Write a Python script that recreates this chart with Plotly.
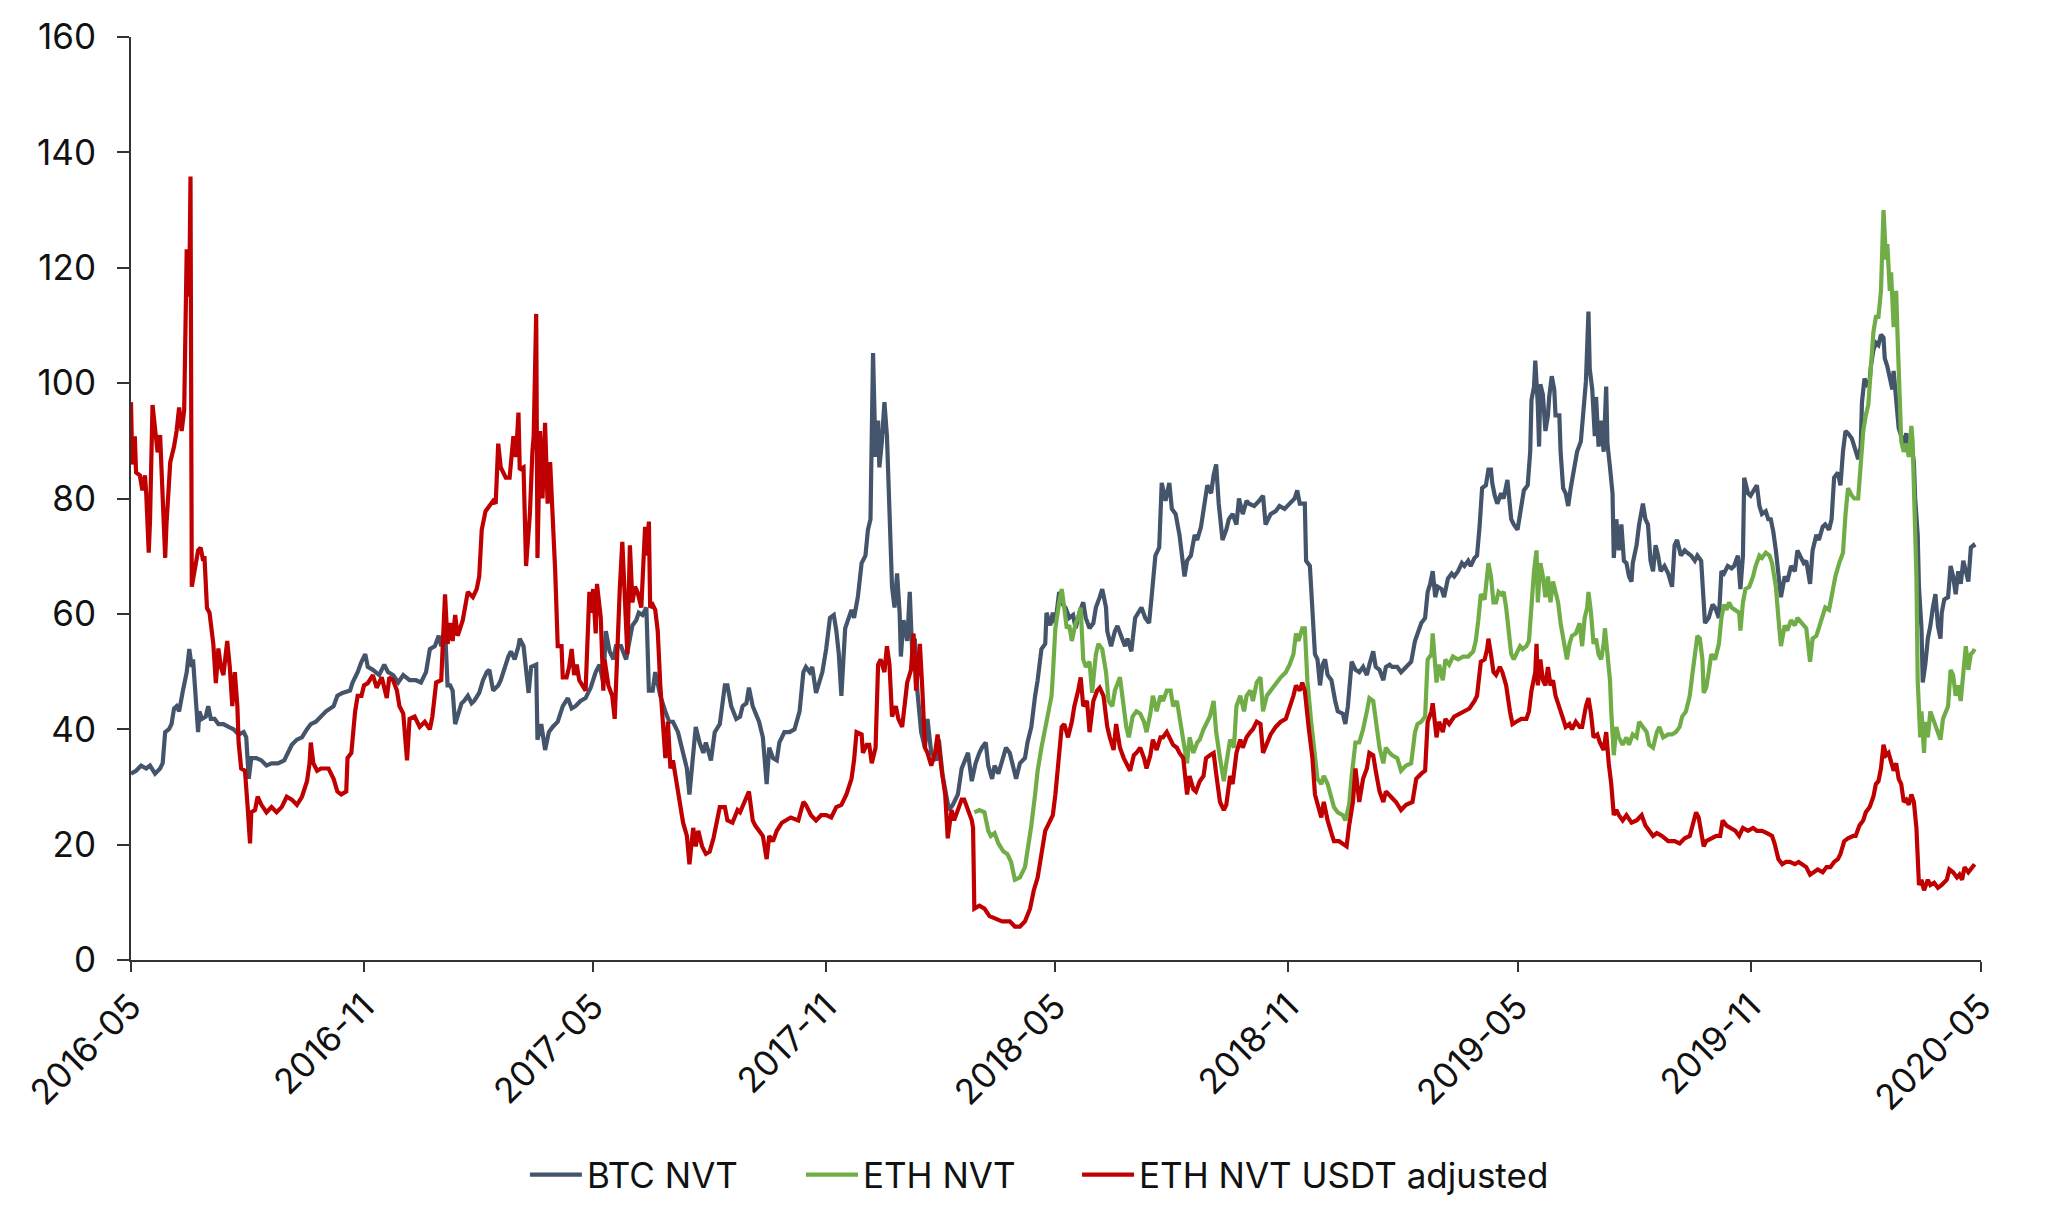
import pandas as pd
import plotly.graph_objects as go

# ---------------- data (day offset from start_date, value) ----------------
start_date = "2016-05-01"
series_names = ["BTC NVT", "ETH NVT", "ETH NVT USDT adjusted"]
series_colors = ["#44546A", "#70AD47", "#C00000"]

btc_nvt = [
    (0, 32.3), (4, 32.8), (8, 33.7), (12, 33.2), (15, 33.7), (19, 32.3), (23, 33.2), (25, 34.1), (27, 39.5),
    (30, 40.0), (32, 40.9), (34, 43.6), (36, 44.0), (38, 43.1), (41, 46.7), (43, 49.4), (44, 49.9), (46, 53.9),
    (48, 50.8), (49, 52.1), (51, 44.9), (53, 39.5), (54, 43.1), (56, 41.8), (59, 42.2), (61, 44.0), (63, 41.8),
    (66, 41.8), (69, 40.9), (73, 40.9), (77, 40.4), (81, 40.0), (85, 39.1), (89, 39.5), (91, 38.6), (93, 31.4),
    (95, 35.0), (99, 35.0), (103, 34.6), (107, 33.7), (111, 34.1), (116, 34.1), (121, 34.6), (124, 35.9),
    (127, 37.3), (131, 38.2), (135, 38.6), (139, 40.0), (142, 40.9), (146, 41.3), (150, 42.2), (154, 43.1),
    (160, 44.0), (163, 45.8), (167, 46.3), (173, 46.7), (175, 48.1), (179, 49.9), (182, 51.7), (185, 53.0),
    (187, 50.8), (191, 50.3), (196, 49.4), (200, 51.2), (203, 49.9), (207, 49.4), (211, 48.1), (215, 49.4),
    (220, 48.5), (225, 48.5), (229, 48.1), (233, 49.9), (236, 53.9), (240, 54.4), (243, 56.2), (245, 54.4),
    (248, 57.5), (250, 47.6), (252, 47.6), (254, 46.7), (256, 40.9), (258, 42.2), (261, 44.5), (263, 44.9),
    (266, 45.8), (269, 44.5), (271, 44.9), (275, 46.3), (278, 48.5), (281, 49.9), (283, 50.3), (286, 46.7),
    (290, 47.6), (292, 48.5), (295, 50.8), (298, 52.6), (300, 53.5), (303, 52.1), (306, 54.4), (307, 55.7),
    (310, 54.4), (312, 49.9), (314, 46.3), (316, 50.8), (320, 51.2), (321, 38.2), (324, 40.9), (327, 36.4),
    (330, 39.5), (333, 40.4), (337, 41.3), (341, 44.0), (345, 45.4), (348, 43.6), (351, 44.0), (355, 44.9),
    (359, 45.4), (363, 47.2), (367, 49.9), (370, 51.2), (373, 48.0), (375, 57.0), (378, 53.5), (381, 52.1),
    (383, 54.4), (387, 54.4), (391, 52.1), (394, 55.7), (396, 58.0), (399, 58.9), (401, 60.2), (404, 59.8),
    (407, 61.1), (409, 46.7), (412, 46.7), (414, 49.9), (418, 45.8), (422, 43.1), (425, 41.3), (428, 41.3),
    (432, 39.5), (436, 35.9), (439, 33.2), (441, 28.7), (444, 35.9), (446, 40.4), (449, 37.7), (452, 35.9),
    (454, 37.7), (458, 34.6), (461, 39.5), (465, 40.9), (469, 47.6), (471, 47.6), (474, 44.0), (478, 41.8),
    (481, 42.2), (483, 44.0), (486, 44.5), (488, 47.2), (491, 44.0), (494, 42.2), (496, 41.3), (499, 38.6),
    (502, 30.5), (504, 36.8), (507, 35.0), (510, 34.6), (512, 37.7), (516, 39.5), (520, 39.5), (524, 40.0),
    (528, 43.1), (531, 49.9), (533, 50.8), (536, 49.9), (538, 50.8), (541, 46.3), (544, 48.5), (546, 49.9),
    (549, 53.9), (552, 59.3), (555, 59.8), (557, 57.1), (559, 53.0), (561, 45.8), (564, 57.5), (567, 59.3),
    (569, 60.7), (571, 59.3), (574, 62.9), (577, 68.8), (580, 70.1), (582, 74.6), (584, 76.4), (586, 105.2),
    (588, 87.2), (590, 93.5), (591, 85.4), (593, 89.9), (595, 96.7), (597, 90.8), (599, 77.3), (601, 64.7),
    (603, 61.1), (605, 67.0), (607, 60.2), (608, 52.6), (610, 58.9), (613, 55.3), (615, 63.8), (617, 53.0),
    (619, 55.7), (621, 46.7), (624, 39.5), (627, 36.8), (629, 41.8), (632, 35.9), (636, 34.6), (638, 38.2),
    (641, 31.9), (644, 27.8), (646, 26.0), (649, 26.9), (653, 28.7), (656, 33.2), (659, 35.0), (661, 35.9),
    (664, 31.0), (667, 34.1), (670, 35.9), (672, 36.8), (675, 37.7), (677, 33.7), (680, 31.4), (682, 33.7),
    (685, 32.3), (689, 35.0), (691, 36.8), (694, 35.9), (696, 34.1), (699, 31.4), (702, 34.1), (706, 35.0),
    (708, 37.7), (711, 40.4), (714, 45.8), (716, 48.5), (719, 53.9), (722, 54.8), (723, 60.2), (726, 58.0),
    (728, 60.2), (730, 58.4), (733, 63.8), (736, 61.6), (738, 61.1), (741, 59.3), (744, 59.8), (746, 57.5),
    (749, 60.2), (752, 62.0), (754, 59.3), (757, 57.5), (760, 58.4), (762, 61.1), (765, 62.9), (767, 64.3),
    (770, 61.1), (771, 57.0), (774, 54.4), (777, 57.0), (779, 57.9), (782, 56.2), (785, 54.4), (787, 55.7),
    (790, 53.5), (793, 59.3), (796, 60.2), (798, 61.1), (801, 59.3), (804, 58.4), (806, 62.9), (809, 70.1),
    (812, 71.5), (814, 82.7), (817, 79.6), (820, 82.7), (822, 78.2), (825, 77.3), (828, 73.7), (830, 70.1),
    (832, 66.5), (834, 69.2), (837, 70.1), (840, 73.7), (842, 72.8), (845, 75.1), (847, 78.2), (850, 82.3),
    (853, 80.9), (855, 84.1), (857, 85.9), (859, 79.1), (862, 72.8), (865, 74.6), (867, 76.4), (870, 77.3),
    (873, 75.5), (875, 80.0), (878, 77.3), (881, 79.6), (883, 79.1), (887, 78.7), (891, 79.6), (894, 80.5),
    (896, 75.5), (900, 77.3), (904, 77.8), (907, 78.7), (911, 78.2), (915, 79.1), (919, 80.0), (921, 81.4),
    (923, 79.1), (927, 79.1), (928, 69.2), (931, 68.3), (933, 60.2), (935, 53.0), (937, 52.1), (939, 47.6),
    (941, 51.2), (943, 52.1), (945, 49.4), (948, 48.5), (951, 44.9), (953, 43.1), (957, 42.7), (959, 40.9),
    (961, 44.0), (964, 51.7), (967, 50.3), (970, 49.9), (973, 50.8), (976, 49.4), (978, 51.2), (981, 53.5),
    (983, 50.8), (986, 50.3), (989, 48.5), (991, 50.8), (994, 51.2), (996, 50.8), (1000, 50.8), (1003, 49.9),
    (1007, 50.8), (1011, 51.7), (1014, 55.3), (1016, 56.6), (1019, 58.4), (1022, 59.3), (1024, 63.8),
    (1026, 65.2), (1028, 67.4), (1030, 62.9), (1032, 64.7), (1035, 64.3), (1037, 62.9), (1040, 66.1),
    (1043, 67.0), (1045, 66.5), (1048, 67.4), (1051, 68.8), (1053, 68.3), (1056, 69.2), (1058, 68.3),
    (1061, 69.7), (1063, 70.1), (1065, 75.1), (1067, 81.8), (1070, 82.3), (1072, 85.0), (1074, 85.0),
    (1075, 82.7), (1077, 80.5), (1079, 79.1), (1082, 80.9), (1084, 80.0), (1087, 83.2), (1090, 76.4),
    (1092, 75.5), (1095, 74.6), (1098, 78.7), (1100, 81.4), (1103, 82.3), (1105, 88.1), (1106, 97.1),
    (1108, 99.4), (1109, 103.9), (1111, 96.2), (1112, 89.0), (1113, 99.8), (1115, 98.0), (1117, 91.7),
    (1119, 94.4), (1120, 97.6), (1122, 101.2), (1124, 98.9), (1125, 94.4), (1128, 94.4), (1129, 88.1),
    (1131, 81.8), (1133, 80.9), (1135, 78.7), (1137, 81.8), (1140, 85.4), (1142, 88.1), (1145, 89.9),
    (1147, 95.3), (1149, 100.3), (1151, 112.4), (1152, 102.5), (1154, 98.9), (1156, 90.8), (1157, 97.6),
    (1159, 89.0), (1161, 93.5), (1163, 88.1), (1165, 99.4), (1166, 89.5), (1168, 85.4), (1170, 80.9),
    (1171, 69.7), (1173, 76.4), (1175, 71.0), (1177, 75.5), (1179, 69.2), (1181, 68.8), (1183, 66.5),
    (1185, 65.6), (1186, 68.8), (1189, 71.9), (1191, 75.5), (1194, 79.1), (1196, 76.4), (1198, 75.5),
    (1200, 69.2), (1202, 67.4), (1204, 71.9), (1206, 70.1), (1208, 67.4), (1211, 68.3), (1214, 67.0),
    (1217, 64.7), (1219, 71.9), (1221, 72.8), (1224, 70.1), (1227, 71.0), (1229, 70.6), (1232, 70.1),
    (1235, 69.2), (1237, 70.1), (1240, 69.2), (1241, 65.6), (1243, 58.4), (1246, 59.3), (1249, 61.6),
    (1251, 61.1), (1254, 59.3), (1256, 67.4), (1258, 67.0), (1261, 68.3), (1264, 67.9), (1266, 68.3),
    (1269, 70.1), (1271, 64.3), (1273, 70.1), (1274, 83.6), (1277, 80.9), (1279, 80.5), (1282, 81.4),
    (1284, 82.3), (1286, 78.7), (1288, 77.3), (1291, 77.8), (1293, 76.4), (1295, 76.4), (1297, 74.2),
    (1299, 71.0), (1301, 66.5), (1303, 62.9), (1306, 66.5), (1308, 65.6), (1311, 68.3), (1314, 67.4),
    (1316, 71.0), (1319, 69.7), (1321, 68.8), (1323, 69.2), (1326, 65.2), (1328, 71.0), (1331, 73.7),
    (1333, 72.8), (1336, 75.1), (1338, 75.5), (1341, 74.6), (1343, 76.4), (1345, 83.6), (1348, 84.5),
    (1350, 82.3), (1352, 88.1), (1354, 91.7), (1356, 91.3), (1359, 90.4), (1361, 89.0), (1364, 86.8),
    (1366, 89.0), (1367, 96.7), (1369, 100.8), (1371, 99.8), (1373, 100.3), (1374, 102.9), (1376, 105.7),
    (1378, 107.0), (1380, 106.6), (1382, 108.4), (1384, 107.9), (1385, 104.3), (1387, 102.9), (1389, 100.8),
    (1391, 98.9), (1392, 102.1), (1394, 97.6), (1396, 92.2), (1398, 90.8), (1400, 89.5), (1402, 91.3),
    (1404, 88.6), (1406, 89.5), (1408, 86.3), (1409, 80.1), (1411, 73.7), (1412, 64.7), (1414, 57.5),
    (1415, 48.1), (1417, 51.2), (1419, 55.7), (1421, 57.9), (1423, 61.1), (1425, 63.4), (1427, 57.9),
    (1429, 55.7), (1430, 60.2), (1432, 62.5), (1435, 62.9), (1437, 68.3), (1439, 66.5), (1441, 63.4),
    (1443, 67.4), (1445, 65.2), (1447, 69.2), (1449, 67.4), (1451, 65.6), (1453, 71.5), (1455, 71.9),
    (1456, 71.5),
]

eth_nvt = [
    (666, 25.6), (670, 26.0), (674, 25.6), (677, 22.4), (679, 21.5), (682, 22.0), (685, 20.2), (689, 18.8),
    (692, 18.4), (695, 17.0), (698, 13.9), (702, 14.3), (706, 16.1), (708, 18.8), (711, 23.3), (714, 28.7),
    (716, 32.8), (719, 36.8), (722, 40.4), (724, 43.1), (727, 45.8), (728, 49.4), (730, 57.5), (733, 62.0),
    (735, 64.3), (737, 61.1), (739, 57.5), (741, 58.0), (743, 55.3), (746, 58.4), (748, 59.3), (750, 61.1),
    (752, 52.1), (754, 50.8), (757, 51.7), (759, 46.3), (762, 53.0), (764, 54.8), (767, 53.9), (770, 49.9),
    (772, 44.9), (775, 44.0), (777, 46.7), (781, 49.0), (783, 44.9), (786, 40.4), (788, 38.6), (791, 42.2),
    (794, 43.1), (797, 42.7), (800, 41.3), (802, 39.5), (805, 42.7), (807, 45.8), (810, 43.1), (813, 45.8),
    (815, 44.9), (818, 46.7), (821, 46.7), (823, 44.0), (826, 44.9), (828, 42.2), (831, 37.7), (834, 34.1),
    (836, 38.6), (839, 35.9), (842, 37.7), (844, 38.2), (847, 40.0), (850, 41.3), (852, 42.2), (855, 44.9),
    (857, 39.5), (860, 35.0), (863, 31.0), (865, 34.1), (868, 38.2), (871, 36.8), (873, 44.0), (876, 45.8),
    (879, 43.1), (881, 45.8), (884, 46.7), (886, 44.9), (889, 48.1), (892, 49.0), (894, 43.1), (897, 45.8),
    (900, 46.7), (904, 48.1), (908, 49.0), (912, 49.9), (915, 51.2), (918, 53.0), (920, 56.6), (922, 55.3),
    (925, 57.5), (927, 57.5), (929, 48.5), (932, 41.3), (935, 35.9), (937, 31.4), (940, 30.5), (942, 31.9),
    (945, 30.5), (948, 27.8), (950, 26.5), (953, 25.6), (957, 25.1), (959, 24.2), (962, 26.9), (964, 31.9),
    (967, 37.7), (970, 37.7), (973, 40.0), (976, 43.1), (978, 45.4), (981, 44.9), (983, 41.3), (986, 36.8),
    (989, 34.1), (991, 36.8), (994, 35.9), (996, 35.5), (1000, 35.0), (1003, 32.8), (1007, 33.7), (1011, 34.1),
    (1014, 39.5), (1016, 40.9), (1019, 41.3), (1022, 42.2), (1024, 52.1), (1027, 53.0), (1028, 56.6),
    (1031, 48.1), (1033, 51.2), (1036, 48.5), (1038, 52.1), (1041, 51.2), (1044, 52.6), (1048, 52.1),
    (1052, 52.6), (1056, 52.6), (1060, 53.5), (1062, 55.3), (1064, 58.9), (1066, 63.4), (1069, 62.5),
    (1071, 66.5), (1072, 68.8), (1074, 66.5), (1076, 62.0), (1078, 62.0), (1080, 63.8), (1082, 63.4),
    (1084, 63.8), (1086, 61.1), (1088, 57.5), (1090, 53.0), (1092, 52.1), (1094, 53.0), (1097, 54.4),
    (1099, 53.9), (1102, 54.4), (1104, 55.3), (1106, 62.0), (1108, 67.4), (1110, 71.0), (1111, 62.0),
    (1113, 68.8), (1115, 66.5), (1117, 62.9), (1119, 66.5), (1121, 62.0), (1123, 65.6), (1125, 63.8),
    (1127, 62.0), (1129, 58.4), (1132, 54.8), (1134, 52.1), (1136, 54.8), (1138, 56.2), (1141, 56.6),
    (1144, 58.4), (1146, 54.4), (1148, 59.3), (1150, 61.1), (1151, 63.8), (1153, 60.2), (1155, 54.8),
    (1157, 55.7), (1159, 53.0), (1161, 52.1), (1163, 54.8), (1164, 57.5), (1166, 52.1), (1168, 48.5),
    (1169, 43.1), (1171, 35.5), (1173, 40.4), (1175, 38.6), (1178, 37.3), (1181, 38.6), (1183, 37.3),
    (1186, 39.1), (1189, 38.6), (1191, 41.3), (1194, 40.4), (1197, 39.5), (1199, 37.3), (1202, 36.8),
    (1205, 39.5), (1207, 40.4), (1210, 38.6), (1214, 39.1), (1217, 39.1), (1220, 39.5), (1223, 40.4),
    (1225, 42.2), (1228, 43.1), (1231, 45.8), (1233, 49.4), (1235, 53.5), (1237, 56.2), (1239, 55.7),
    (1241, 52.1), (1242, 46.3), (1244, 47.2), (1246, 49.9), (1248, 53.0), (1251, 52.1), (1254, 54.8),
    (1256, 59.3), (1258, 61.6), (1260, 60.7), (1262, 62.0), (1264, 61.1), (1267, 60.7), (1270, 60.2),
    (1271, 57.1), (1273, 62.0), (1275, 64.3), (1278, 64.7), (1281, 66.5), (1283, 68.3), (1286, 70.1),
    (1288, 69.7), (1291, 70.6), (1294, 70.1), (1296, 68.8), (1299, 64.7), (1301, 59.3), (1303, 54.4),
    (1306, 58.0), (1308, 57.1), (1311, 58.9), (1314, 58.0), (1316, 59.3), (1319, 58.4), (1321, 58.0),
    (1323, 57.5), (1326, 51.7), (1328, 55.7), (1331, 56.2), (1333, 57.5), (1336, 59.8), (1338, 61.1),
    (1341, 60.7), (1344, 64.7), (1346, 66.5), (1349, 68.8), (1352, 70.6), (1354, 77.3), (1356, 81.8),
    (1359, 80.5), (1361, 80.0), (1364, 80.0), (1366, 86.3), (1368, 91.7), (1370, 94.4), (1372, 96.2),
    (1374, 102.5), (1376, 108.8), (1378, 111.5), (1380, 111.5), (1382, 116.0), (1383, 125.9), (1384, 130.0),
    (1386, 121.4), (1387, 124.1), (1389, 116.0), (1390, 119.2), (1392, 109.7), (1394, 116.0), (1395, 108.8),
    (1397, 95.3), (1398, 89.9), (1400, 88.1), (1402, 89.5), (1404, 87.2), (1406, 92.6), (1407, 89.9),
    (1409, 75.5), (1410, 66.5), (1411, 48.5), (1413, 38.6), (1414, 43.1), (1416, 35.9), (1417, 41.3),
    (1419, 38.6), (1421, 43.1), (1423, 41.8), (1425, 40.4), (1427, 39.1), (1429, 38.2), (1431, 41.8),
    (1433, 42.7), (1435, 44.0), (1437, 50.3), (1439, 49.4), (1441, 45.8), (1443, 47.6), (1445, 44.9),
    (1447, 49.9), (1449, 54.4), (1451, 50.3), (1453, 53.0), (1455, 53.5), (1456, 53.9),
]

eth_nvt_usdt_adjusted = [
    (0, 96.7), (1, 85.9), (3, 90.8), (4, 84.5), (7, 84.0), (9, 81.4), (11, 84.0), (12, 81.0), (14, 70.6),
    (15, 76.0), (17, 96.2), (19, 91.7), (21, 88.0), (23, 91.0), (25, 78.0), (27, 69.7), (28, 75.5), (31, 86.3),
    (34, 89.0), (36, 91.7), (38, 95.8), (40, 91.7), (42, 95.3), (43, 118.3), (44, 123.2), (46, 115.0),
    (47, 135.8), (48, 64.7), (50, 67.4), (53, 71.0), (55, 71.5), (57, 69.2), (58, 70.0), (60, 61.0), (62, 60.2),
    (64, 56.6), (65, 54.8), (67, 48.0), (69, 54.0), (71, 50.8), (73, 49.4), (76, 55.3), (78, 50.8), (80, 44.0),
    (82, 49.9), (84, 44.0), (85, 37.7), (87, 33.2), (90, 32.8), (92, 26.9), (94, 20.2), (95, 25.6), (98, 26.0),
    (100, 28.3), (103, 26.9), (107, 25.6), (111, 26.5), (115, 25.6), (119, 26.5), (123, 28.3), (127, 27.8),
    (131, 26.9), (135, 28.3), (139, 31.0), (141, 34.1), (142, 37.7), (144, 34.1), (147, 32.8), (150, 33.2),
    (156, 33.2), (160, 31.4), (163, 29.2), (166, 28.7), (170, 29.2), (171, 35.0), (174, 35.9), (177, 43.1),
    (179, 45.8), (182, 45.8), (184, 47.6), (187, 48.0), (191, 49.4), (194, 47.2), (198, 49.0), (202, 45.4),
    (204, 49.0), (207, 48.5), (210, 46.7), (212, 44.0), (215, 42.7), (218, 34.6), (220, 41.8), (224, 42.2),
    (228, 40.4), (232, 41.3), (236, 40.0), (238, 42.2), (241, 48.1), (245, 48.5), (248, 63.4), (250, 54.8),
    (252, 58.4), (254, 55.3), (256, 59.8), (258, 56.2), (262, 58.9), (266, 63.8), (270, 62.9), (273, 64.3),
    (275, 66.5), (277, 74.6), (280, 77.8), (283, 78.7), (286, 79.6), (288, 79.1), (290, 89.5), (292, 85.4),
    (296, 83.6), (299, 83.6), (302, 90.8), (304, 87.2), (306, 94.9), (307, 85.0), (310, 85.4), (312, 68.3),
    (315, 77.3), (317, 88.1), (318, 90.8), (320, 112.0), (321, 69.7), (323, 91.7), (325, 80.0), (327, 93.1),
    (329, 79.1), (331, 86.3), (333, 78.2), (335, 67.4), (337, 54.4), (340, 54.4), (341, 49.0), (344, 49.0),
    (346, 50.8), (348, 53.9), (350, 49.4), (352, 51.2), (354, 48.5), (357, 47.2), (359, 46.7), (362, 63.8),
    (363, 60.2), (365, 64.3), (367, 56.6), (368, 65.2), (371, 59.3), (373, 46.7), (374, 52.1), (377, 47.6),
    (380, 45.8), (382, 41.8), (384, 55.7), (386, 64.3), (388, 72.5), (390, 62.0), (392, 53.0), (394, 71.9),
    (396, 62.0), (398, 64.7), (400, 63.8), (403, 61.1), (406, 75.1), (407, 70.1), (409, 76.0), (410, 61.1),
    (412, 61.6), (414, 60.7), (416, 57.0), (418, 47.6), (420, 41.3), (422, 35.0), (424, 41.3), (426, 33.2),
    (428, 34.6), (430, 31.9), (433, 28.3), (436, 23.8), (439, 21.5), (441, 16.6), (444, 22.9), (446, 19.7),
    (448, 22.4), (451, 19.7), (454, 18.4), (457, 18.8), (460, 21.1), (462, 23.3), (465, 26.5), (469, 26.5),
    (471, 24.2), (475, 23.8), (479, 26.0), (481, 25.6), (485, 27.8), (488, 29.2), (491, 24.2), (493, 23.3),
    (496, 22.4), (499, 21.5), (502, 17.5), (504, 21.5), (507, 20.6), (510, 22.4), (514, 23.8), (517, 24.2),
    (521, 24.7), (527, 24.2), (531, 27.4), (533, 26.9), (537, 25.1), (541, 24.2), (545, 25.1), (549, 25.1),
    (553, 24.7), (557, 26.5), (561, 26.9), (565, 28.7), (569, 31.4), (571, 34.6), (573, 39.5), (577, 39.1),
    (578, 35.9), (581, 37.3), (583, 37.3), (585, 34.1), (588, 36.8), (590, 51.2), (592, 52.1), (595, 49.9),
    (597, 54.4), (599, 51.2), (601, 42.2), (604, 44.0), (606, 41.8), (609, 40.4), (611, 44.9), (613, 48.1),
    (616, 50.3), (618, 56.6), (620, 46.7), (623, 54.8), (625, 46.7), (627, 36.8), (629, 35.9), (632, 33.7),
    (635, 35.9), (637, 39.1), (640, 33.2), (643, 28.7), (645, 21.1), (648, 26.0), (650, 24.2), (653, 26.0),
    (656, 27.8), (658, 27.8), (661, 26.0), (664, 24.2), (665, 22.9), (666, 8.9), (670, 9.4), (674, 8.9),
    (678, 7.6), (683, 7.1), (688, 6.7), (694, 6.7), (698, 5.8), (702, 5.8), (706, 6.7), (710, 8.9), (713, 12.1),
    (716, 14.3), (719, 18.8), (722, 22.4), (726, 24.2), (728, 25.1), (730, 28.7), (733, 35.0), (735, 40.4),
    (737, 40.9), (740, 38.6), (743, 41.3), (745, 44.0), (748, 46.7), (750, 49.0), (752, 44.0), (755, 44.9),
    (757, 39.5), (760, 44.9), (763, 46.7), (765, 47.2), (768, 45.8), (771, 40.4), (773, 38.6), (776, 36.4),
    (778, 40.9), (781, 36.8), (784, 35.0), (786, 34.1), (789, 32.8), (792, 35.5), (794, 35.9), (797, 36.8),
    (800, 35.0), (802, 33.2), (805, 35.5), (807, 38.2), (810, 36.4), (813, 38.6), (815, 38.6), (818, 39.5),
    (821, 38.2), (823, 37.3), (826, 36.8), (828, 35.9), (831, 35.0), (834, 28.7), (836, 31.9), (839, 29.6),
    (841, 29.2), (844, 31.0), (847, 31.9), (849, 35.0), (852, 35.5), (855, 35.9), (857, 32.3), (860, 27.4),
    (863, 26.0), (865, 26.9), (868, 31.9), (870, 30.5), (873, 35.9), (876, 38.2), (878, 36.8), (881, 38.6),
    (884, 39.5), (886, 40.0), (889, 41.3), (892, 40.9), (894, 35.9), (897, 37.7), (900, 39.1), (904, 40.4),
    (908, 41.3), (912, 41.8), (915, 43.6), (918, 45.8), (920, 47.6), (923, 46.7), (925, 48.1), (927, 46.7),
    (930, 40.4), (933, 35.0), (935, 28.7), (937, 26.9), (940, 24.7), (942, 27.4), (945, 24.2), (948, 22.0),
    (950, 20.6), (954, 20.6), (957, 20.2), (960, 19.7), (962, 23.3), (965, 27.4), (967, 33.2), (970, 27.4),
    (973, 31.4), (976, 33.2), (978, 35.9), (981, 35.5), (983, 32.8), (986, 29.2), (989, 27.4), (991, 29.2),
    (995, 28.3), (999, 27.4), (1003, 26.0), (1007, 26.9), (1012, 27.4), (1015, 31.4), (1019, 32.3),
    (1022, 32.8), (1024, 41.3), (1027, 43.1), (1028, 44.5), (1031, 38.6), (1033, 41.3), (1036, 39.5),
    (1038, 41.8), (1041, 40.9), (1045, 42.2), (1049, 42.7), (1053, 43.1), (1057, 43.6), (1061, 44.9),
    (1063, 45.8), (1066, 51.7), (1069, 52.1), (1071, 53.9), (1072, 55.7), (1074, 53.0), (1076, 49.9),
    (1078, 49.4), (1081, 50.8), (1083, 49.9), (1086, 47.6), (1089, 43.1), (1091, 40.9), (1094, 41.3),
    (1098, 41.8), (1102, 41.8), (1104, 43.1), (1106, 46.7), (1109, 49.9), (1110, 54.8), (1111, 47.6),
    (1113, 52.1), (1115, 48.5), (1117, 47.6), (1119, 50.8), (1121, 47.6), (1123, 48.5), (1125, 45.8),
    (1128, 44.0), (1131, 41.8), (1133, 40.4), (1136, 40.9), (1138, 40.0), (1141, 41.3), (1144, 40.4),
    (1146, 40.4), (1149, 44.0), (1151, 45.4), (1153, 42.7), (1155, 38.6), (1158, 39.1), (1160, 37.7),
    (1163, 36.4), (1165, 39.5), (1167, 34.1), (1169, 30.5), (1171, 25.1), (1173, 26.0), (1175, 25.1),
    (1178, 24.2), (1181, 25.1), (1185, 23.8), (1189, 24.2), (1193, 25.1), (1196, 23.3), (1199, 22.4),
    (1202, 21.5), (1205, 22.0), (1209, 21.5), (1214, 20.6), (1219, 20.6), (1223, 20.2), (1227, 21.1),
    (1231, 21.5), (1233, 22.9), (1236, 25.6), (1238, 24.7), (1240, 22.4), (1242, 19.7), (1244, 20.6),
    (1248, 21.1), (1252, 21.5), (1255, 21.5), (1257, 24.2), (1260, 23.3), (1264, 22.9), (1267, 22.4),
    (1270, 21.5), (1273, 22.9), (1277, 22.4), (1281, 22.9), (1284, 22.4), (1288, 22.4), (1292, 22.0),
    (1296, 21.5), (1298, 20.2), (1301, 17.5), (1304, 16.6), (1307, 17.0), (1310, 17.0), (1314, 16.6),
    (1317, 17.0), (1320, 16.6), (1323, 16.1), (1326, 14.8), (1329, 15.2), (1332, 15.7), (1336, 15.2),
    (1339, 16.1), (1342, 16.1), (1345, 17.0), (1348, 17.5), (1350, 18.4), (1353, 20.6), (1356, 21.1),
    (1360, 21.5), (1362, 21.5), (1365, 23.3), (1368, 24.2), (1370, 25.6), (1373, 26.5), (1376, 28.3),
    (1378, 30.5), (1380, 31.0), (1382, 33.2), (1384, 37.3), (1386, 35.5), (1388, 35.9), (1390, 34.1),
    (1392, 32.8), (1394, 34.1), (1396, 31.4), (1398, 30.5), (1400, 27.4), (1402, 27.8), (1404, 26.9),
    (1406, 28.7), (1408, 27.4), (1410, 22.9), (1411, 16.1), (1412, 13.0), (1414, 13.9), (1416, 12.1),
    (1419, 13.9), (1421, 13.0), (1424, 13.4), (1427, 12.5), (1430, 13.0), (1434, 13.9), (1436, 15.7),
    (1439, 15.2), (1442, 14.3), (1444, 14.8), (1446, 13.9), (1448, 16.1), (1451, 15.2), (1454, 16.1),
    (1456, 16.6),
]

x_tick_dates = ["2016-05-01", "2016-11-01", "2017-05-01", "2017-11-01", "2018-05-01",
                "2018-11-01", "2019-05-01", "2019-11-01", "2020-05-01"]
x_tick_labels = ["2016-05", "2016-11", "2017-05", "2017-11", "2018-05",
                 "2018-11", "2019-05", "2019-11", "2020-05"]
y_tick_values = [0, 20, 40, 60, 80, 100, 120, 140, 160]


def to_xy(points):
    base = pd.Timestamp(start_date)
    xs = [base + pd.Timedelta(days=d) for d, _ in points]
    ys = [v for _, v in points]
    return xs, ys


font_family = "Inter, 'Liberation Sans', Arial, sans-serif"
axis_color = "#333333"
text_color = "#111111"

legend_ids = ["legend", "legend2", "legend3"]
legend_left = [0.2563, 0.3911, 0.5259]   # container fractions, one legend per series

fig = go.Figure()
for name, color, pts, lid in zip(series_names, series_colors,
                                 [btc_nvt, eth_nvt, eth_nvt_usdt_adjusted], legend_ids):
    xs, ys = to_xy(pts)
    fig.add_trace(go.Scatter(x=xs, y=ys, mode="lines", name=name, legend=lid,
                             line=dict(color=color, width=4.2)))

legend_style = dict(orientation="h", xref="container", yref="container",
                    xanchor="left", y=0.044, yanchor="middle",
                    font=dict(size=35, color=text_color), itemwidth=52,
                    bgcolor="rgba(0,0,0,0)")

fig.update_layout(
    width=2048, height=1229,
    margin=dict(l=131, r=67, t=37, b=269, autoexpand=False),
    paper_bgcolor="white", plot_bgcolor="white",
    font=dict(family=font_family, size=35, color=text_color),
    showlegend=True,
    legend=dict(x=legend_left[0], **legend_style),
    legend2=dict(x=legend_left[1], **legend_style),
    legend3=dict(x=legend_left[2], **legend_style),
)
fig.update_xaxes(
    type="date",
    range=[x_tick_dates[0], x_tick_dates[-1]],
    tickmode="array", tickvals=x_tick_dates, ticktext=x_tick_labels,
    tickangle=-45,
    showgrid=False, zeroline=False,
    showline=True, linecolor=axis_color, linewidth=2,
    ticks="outside", ticklen=10, tickwidth=2, tickcolor=axis_color,
    tickfont=dict(size=35, color=text_color),
)
fig.update_yaxes(
    range=[0, 160],
    tickmode="array", tickvals=y_tick_values,
    showgrid=False, zeroline=False,
    showline=True, linecolor=axis_color, linewidth=2,
    ticks="outside", ticklen=12, tickwidth=2, tickcolor=axis_color,
    ticklabelstandoff=14,
    tickfont=dict(size=35, color=text_color),
)

fig.write_html("out.html", config={"displayModeBar": False},
               post_script="document.body.style.margin='0';")
